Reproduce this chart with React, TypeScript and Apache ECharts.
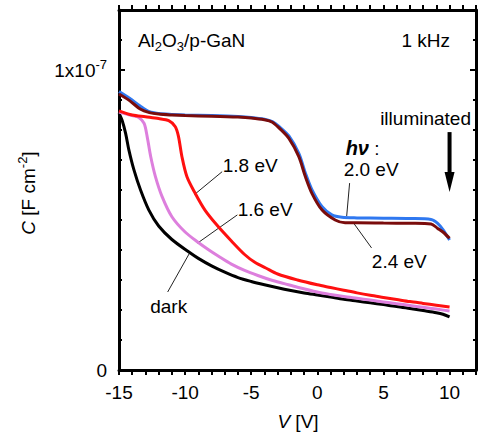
import React, { useEffect, useRef } from "react";
import * as echarts from "echarts";

// Voltage (V) and capacitance (units of 1e-8 F cm^-2)
const V_DARK = [-15, -14.75, -14.5, -14.25, -13.87, -13.37, -12.74, -12, -11, -9.74, -9, -8, -7, -6, -5, -4, -3, -2, -1, 0, 1, 2, 3, 4, 5, 6, 7, 8, 9, 9.5, 10];
const C_DARK = [8.56, 8.3, 7.89, 7.33, 6.67, 6.0, 5.33, 4.8, 4.35, 3.94, 3.72, 3.47, 3.26, 3.08, 2.95, 2.84, 2.74, 2.65, 2.57, 2.5, 2.43, 2.36, 2.3, 2.24, 2.18, 2.12, 2.05, 1.98, 1.91, 1.86, 1.77];

const V_16 = [-15, -14.5, -14, -13.5, -13.1, -12.87, -12.6, -12.24, -11.74, -11, -10, -9, -8.2, -7.5, -6.5, -5.5, -4.5, -3.5, -2.5, -1.5, 0, 1, 2, 3, 4, 5, 6, 7, 8, 9, 10];
const C_16 = [8.6, 8.54, 8.48, 8.42, 8.22, 7.78, 7.11, 6.44, 5.78, 5.11, 4.6, 4.25, 4.0, 3.8, 3.53, 3.32, 3.15, 3.0, 2.88, 2.76, 2.6, 2.52, 2.45, 2.39, 2.33, 2.27, 2.21, 2.15, 2.09, 2.03, 1.97];

const V_18 = [-15, -14, -13, -12, -11.24, -10.74, -10.5, -10.24, -9.86, -9.24, -8.5, -7.5, -6.5, -5.5, -4.7, -3.9, -3, -1.5, 0, 1, 2, 3, 4, 5, 6, 7, 8, 9, 10];
const C_18 = [8.64, 8.5, 8.44, 8.38, 8.31, 8.11, 7.78, 7.11, 6.44, 5.89, 5.33, 4.78, 4.3, 3.85, 3.58, 3.4, 3.2, 3.0, 2.84, 2.75, 2.66, 2.57, 2.49, 2.42, 2.35, 2.28, 2.22, 2.16, 2.1];

const V_20 = [-15, -14.2, -13.4, -12.7, -12, -11, -10, -8, -6, -5, -4, -3.4, -2.9, -2.15, -1.4, -0.9, -0.4, 0.36, 1.1, 1.86, 3, 5, 7, 8.6, 9.1, 9.5, 10];
const C_20 = [9.28, 9.06, 8.8, 8.61, 8.55, 8.52, 8.5, 8.48, 8.45, 8.42, 8.36, 8.28, 8.12, 7.8, 7.22, 6.56, 6.0, 5.44, 5.17, 5.09, 5.07, 5.06, 5.05, 5.02, 4.89, 4.68, 4.33];

const V_24 = [-15, -14.2, -13.4, -12.7, -12, -11, -10, -8, -6, -5, -4, -3.4, -2.9, -2.15, -1.4, -0.9, -0.4, 0.36, 1.35, 2.1, 3, 5, 7, 8.6, 9.1, 9.5, 10];
const C_24 = [9.2, 8.98, 8.7, 8.58, 8.53, 8.5, 8.48, 8.46, 8.43, 8.4, 8.34, 8.26, 8.07, 7.72, 7.11, 6.44, 5.88, 5.33, 5.0, 4.91, 4.91, 4.9, 4.89, 4.87, 4.72, 4.6, 4.39];

const X_TICK_LABELS = [-15, -10, -5, 0, 5, 10];

const FONT = '"Liberation Sans", Arial, Helvetica, sans-serif';

const zip = (xs: number[], ys: number[]) => xs.map((x, i) => [x, ys[i]]);

export default function App() {
  const ref = useRef<HTMLDivElement>(null);
  useEffect(() => {
    document.body.style.margin = "0";
    const el = ref.current!;
    const chart = echarts.init(el, null, { renderer: "svg" });
    const axisLine = { show: true, onZero: false, lineStyle: { color: "#000", width: 3 } };
    const noLine = { show: false, onZero: false };
    const tickStyle = { color: "#000", width: 2 };
    const series = [
      { name: "dark", v: V_DARK, c: C_DARK, color: "#000000" },
      { name: "1.6 eV", v: V_16, c: C_16, color: "#dd7fdd" },
      { name: "1.8 eV", v: V_18, c: C_18, color: "#ff1010" },
      { name: "2.0 eV", v: V_20, c: C_20, color: "#2f78f0" },
      { name: "2.4 eV", v: V_24, c: C_24, color: "#7a0c0c" },
    ].map((s) => ({
      type: "line",
      name: s.name,
      data: zip(s.v, s.c),
      xAxisIndex: 0,
      yAxisIndex: 0,
      showSymbol: false,
      smooth: 0.3,
      lineStyle: { color: s.color, width: 3 },
      itemStyle: { color: s.color },
    }));
    const yBase = { type: "value", min: 0, max: 12, splitLine: { show: false } };
    chart.setOption({
      animation: false,
      grid: { left: 119, right: 2, top: 10, bottom: 64, containLabel: false },
      xAxis: [
        {
          type: "value", min: -15, max: 12, interval: 1, position: "bottom",
          axisLine, splitLine: { show: false },
          axisTick: { inside: false, length: 5, lineStyle: tickStyle },
          axisLabel: {
            margin: 13, fontSize: 19, color: "#000", fontFamily: FONT,
            formatter: (v: number) => (X_TICK_LABELS.includes(v) ? String(v) : ""),
          },
        },
        {
          type: "value", min: -15, max: 12, interval: 1, position: "top",
          axisLine, splitLine: { show: false },
          axisTick: { inside: false, length: 5, lineStyle: tickStyle },
          axisLabel: { show: false },
        },
      ],
      yAxis: [
        {
          ...yBase, interval: 1, position: "left", axisLine,
          axisTick: { inside: true, length: 3, lineStyle: tickStyle },
          axisLabel: {
            margin: 12, fontSize: 19, color: "#000", fontFamily: FONT,
            formatter: (v: number) => (v === 0 ? "{a|0}" : v === 10 ? "{a|1x10}{b|-7}" : ""),
            rich: {
              a: { fontSize: 19, lineHeight: 24, fontFamily: FONT, color: "#000" },
              b: { fontSize: 13, lineHeight: 12, verticalAlign: "top", fontFamily: FONT, color: "#000" },
            },
          },
        },
        {
          ...yBase, interval: 1, position: "right", axisLine,
          axisTick: { inside: true, length: 3, lineStyle: tickStyle },
          axisLabel: { show: false },
        },
        {
          ...yBase, interval: 10, position: "left", axisLine: noLine,
          axisTick: { inside: true, length: 6, lineStyle: tickStyle },
          axisLabel: { show: false },
        },
        {
          ...yBase, interval: 10, position: "right", axisLine: noLine,
          axisTick: { inside: true, length: 6, lineStyle: tickStyle },
          axisLabel: { show: false },
        },
      ],
      series,
    });

    const px = (v: number, c: number) => chart.convertToPixel({ xAxisIndex: 0, yAxisIndex: 0 }, [v, c]) as number[];
    const txt = (
      text: string, at: number[], align: string, extra: any = {}
    ) => {
      const p = px(at[0], at[1]);
      return {
        type: "text", x: p[0], y: p[1], silent: true,
        style: {
          text, align, verticalAlign: "middle", fill: "#000",
          fontSize: 19, fontFamily: FONT, ...extra,
        },
      };
    };
    const lead = (a: number[], b: number[]) => {
      const p = px(a[0], a[1]);
      const q = px(b[0], b[1]);
      return {
        type: "line", silent: true,
        shape: { x1: p[0], y1: p[1], x2: q[0], y2: q[1] },
        style: { stroke: "#222", lineWidth: 1 },
      };
    };
    const arrTop = px(10, 7.93);
    const arrBot = px(10, 5.93);
    const rich = {
      m: { fontSize: 19, lineHeight: 24, fontFamily: FONT, fill: "#000" },
      s: { fontSize: 13, lineHeight: 12, verticalAlign: "bottom", fontFamily: FONT, fill: "#000" },
      u: { fontSize: 13, lineHeight: 12, verticalAlign: "top", fontFamily: FONT, fill: "#000" },
      i: { fontSize: 19, lineHeight: 24, fontStyle: "italic", fontFamily: FONT, fill: "#000" },
      h: { fontSize: 20, lineHeight: 24, fontStyle: "italic", fontWeight: "bold", fontFamily: FONT, fill: "#000" },
    };
    const graphic: any[] = [
      txt("{m|Al}{s|2}{m|O}{s|3}{m|/p-GaN}", [-13.57, 10.97], "left", { rich }),
      txt("1 kHz", [10.04, 10.97], "right"),
      txt("illuminated", [11.62, 8.37], "right"),
      txt("1.8 eV", [-5.08, 6.83], "center"),
      lead([-9.29, 5.85], [-7.2, 6.61]),
      txt("1.6 eV", [-3.95, 5.35], "center"),
      lead([-9.06, 4.23], [-6.05, 5.17]),
      txt("dark", [-11.24, 2.13], "center"),
      lead([-11.32, 2.6], [-9.66, 3.9]),
      txt("{h|hν} {m|:}", [2.14, 7.4], "left", { rich }),
      txt("2.0 eV", [1.99, 6.67], "left"),
      lead([2.44, 6.23], [2.22, 5.13]),
      txt("2.4 eV", [6.2, 3.63], "center"),
      lead([2.74, 4.9], [4.1, 4.07]),
      {
        type: "line", silent: true,
        shape: { x1: arrTop[0], y1: arrTop[1], x2: arrBot[0], y2: arrBot[1] - 16 },
        style: { stroke: "#000", lineWidth: 4 },
      },
      {
        type: "polygon", silent: true,
        shape: { points: [[arrBot[0] - 5, arrBot[1] - 20], [arrBot[0] + 5, arrBot[1] - 20], [arrBot[0], arrBot[1]]] },
        style: { fill: "#000" },
      },
      {
        type: "text", x: 298, y: 421, silent: true,
        style: { text: "{i|V} {m|[V]}", align: "center", verticalAlign: "middle", rich, fontSize: 19, fontFamily: FONT },
      },
      {
        type: "text", x: 28, y: 193, rotation: Math.PI / 2, silent: true,
        style: { text: "{i|C} {m|[F cm}{u|-2}{m|]}", align: "center", verticalAlign: "middle", rich, fontSize: 19, fontFamily: FONT },
      },
    ];
    chart.setOption({ graphic });
    return () => chart.dispose();
  }, []);
  return <div ref={ref} style={{ width: 479, height: 434 }} />;
}
